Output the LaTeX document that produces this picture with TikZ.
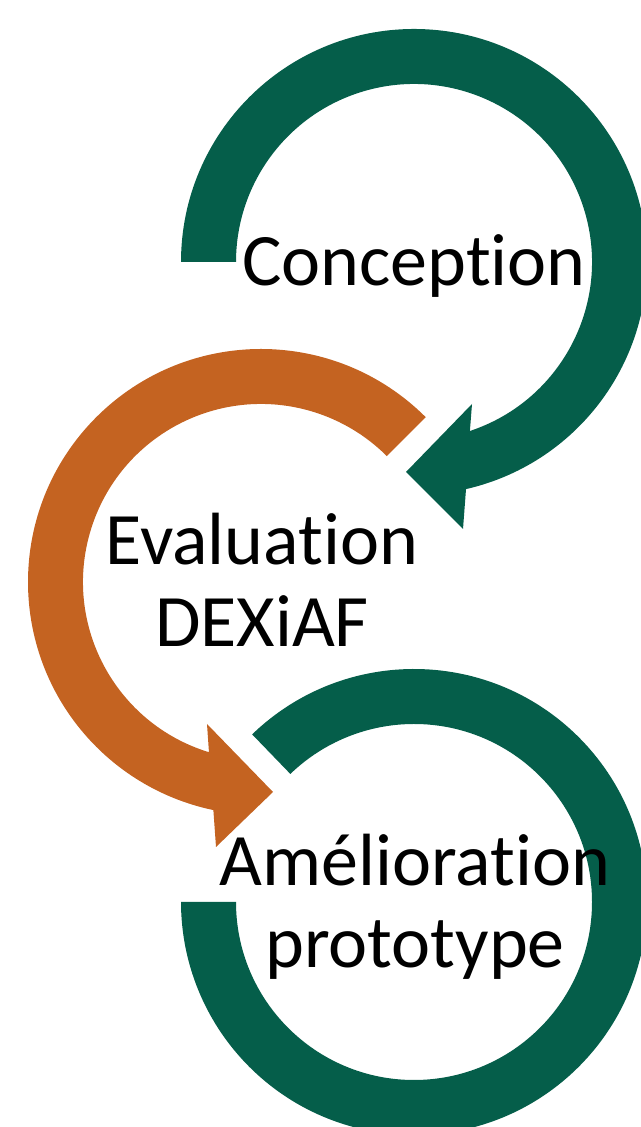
\documentclass[tikz,border=0pt]{standalone}
\usepackage{fontspec}
\setmainfont{Carlito}[Ligatures=NoCommon]
\usepackage{xcolor}

\definecolor{cyclegreen}{RGB}{5,94,74}
\definecolor{cycleorange}{RGB}{196,99,33}

\begin{document}
\begin{tikzpicture}[x=0.75pt,y=0.75pt,
    greenarc/.style={fill=cyclegreen},
    orangearc/.style={fill=cycleorange},
    steptext/.style={font=\fontsize{55.5}{61.5}\selectfont, align=center, inner sep=0pt}]
    \useasboundingbox (0,0) rectangle (641,1127);
    \clip (0,0) rectangle (641,1127);

    \coordinate (c1) at (414,865);
    \coordinate (c2) at (261,545);
    \coordinate (c3) at (414,225);

    % Conception
    \fill[greenarc] ([shift={(180:233)}]c1) arc[start angle=180, end angle=-77.1, radius=233]
        -- ([shift={(49,-267)}]c1) -- ([shift={(-8,-210)}]c1) -- ([shift={(58,-142)}]c1)
        -- ([shift={(-71.7:178)}]c1) arc[start angle=-71.7, end angle=180, radius=178] -- cycle;

    % Evaluation
    \fill[orangearc] ([shift={(45:233)}]c2) arc[start angle=45, end angle=258.2, radius=233]
        -- ([shift={(-45,-265)}]c2) -- ([shift={(12,-210)}]c2) -- ([shift={(-54,-142)}]c2)
        -- ([shift={(253:178)}]c2) arc[start angle=253, end angle=45, radius=178] -- cycle;

    % Amelioration
    \fill[greenarc] ([shift={(134:233)}]c3) arc[start angle=134, end angle=-180, radius=233]
        -- ([shift={(180:178)}]c3) arc[start angle=-180, end angle=134, radius=178] -- cycle;

    % base = baseline of the last line
    \node[steptext, anchor=base] (conception) at (414,841) {Conception};
    \node[steptext, anchor=base] (evaluation) at (262,480) {Evaluation\\DEXiAF};
    \node[steptext, anchor=base] (amelioration) at (415,159) {Amélioration\\prototype};
\end{tikzpicture}
\end{document}
